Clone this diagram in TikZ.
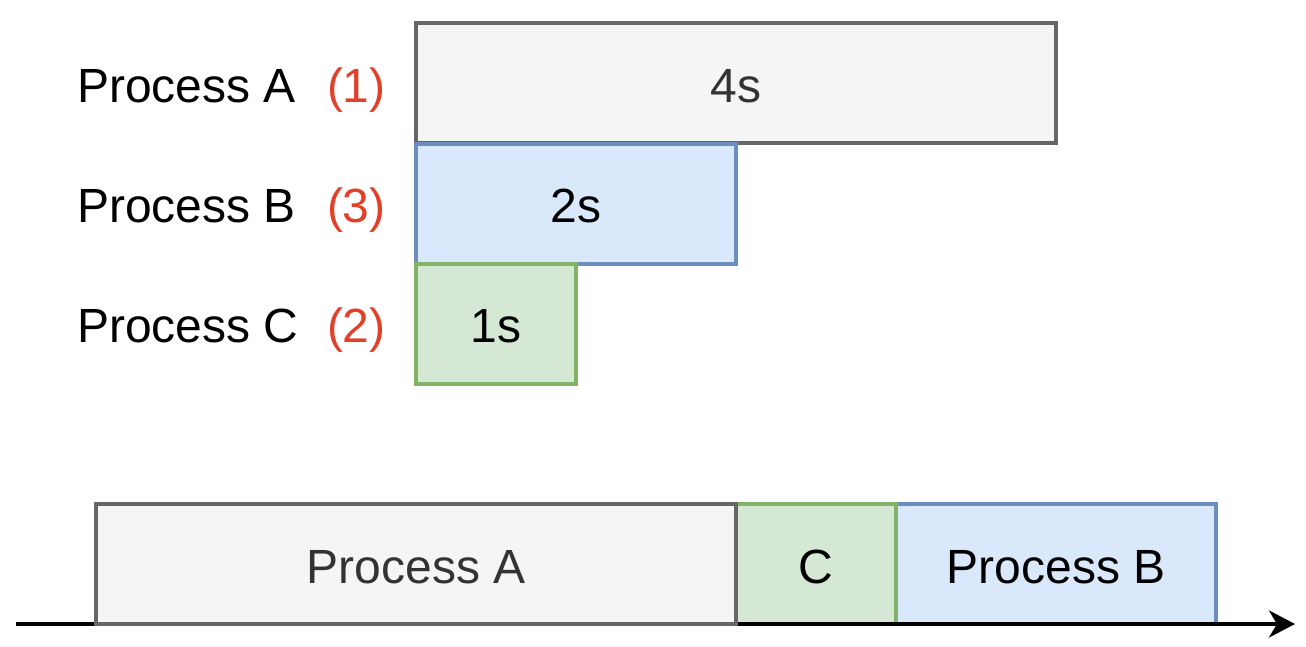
\documentclass[tikz,border=0pt]{standalone}
\usepackage{fontspec}
\setmainfont{Liberation Sans}
\usetikzlibrary{arrows.meta}
\definecolor{grayfill}{HTML}{F5F5F5}
\definecolor{graydraw}{HTML}{666666}
\definecolor{graytext}{HTML}{333333}
\definecolor{bluefill}{HTML}{DAE8FC}
\definecolor{bluedraw}{HTML}{6C8EBF}
\definecolor{greenfill}{HTML}{D5E8D4}
\definecolor{greendraw}{HTML}{82B366}
\definecolor{prio}{HTML}{E3402A}
\begin{document}
\begin{tikzpicture}[x=1pt,y=-1pt,
  every node/.style={font=\fontsize{48}{58}\selectfont, inner sep=0pt, outer sep=0pt},
  procbox/.style={rectangle, line width=4pt, minimum height=120pt, text height=38pt, text depth=0pt},
  graybox/.style={procbox, fill=grayfill, draw=graydraw, text=graytext},
  bluebox/.style={procbox, fill=bluefill, draw=bluedraw, text=black},
  greenbox/.style={procbox, fill=greenfill, draw=greendraw, text=black},
  plabel/.style={anchor=base west, text=black},
  prlabel/.style={anchor=base west, text=prio},
  axis/.style={line width=4pt, -{Stealth[length=26pt 0,width=27pt 0,inset=8pt 0]}}
]
\useasboundingbox (0,0) rectangle (1306,646);

% top rows
\node[graybox, minimum width=640pt] (ta) at (736,83) {4s};
\node[bluebox, minimum width=320pt] (tb) at (576,203.5) {2s};
\node[greenbox, minimum width=160pt] (tc) at (496,323.5) {1s};

\node[plabel] (la) at (77,102) {Process A};
\node[plabel] (lb) at (77,222) {Process B};
\node[plabel] (lc) at (77,342) {Process C};
\node[prlabel] (pa) at (327,102) {(1)};
\node[prlabel] (pb) at (327,222) {(3)};
\node[prlabel] (pc) at (327,342) {(2)};

% timeline
\node[bluebox, minimum width=320pt] (bb) at (1056,564) {Process B};
\node[greenbox, minimum width=160pt] (bc) at (816,564) {C};
\coordinate (s) at (16,624);
\coordinate (e) at (1295,624);
\draw[axis] (s) -- (e);
\node[graybox, minimum width=640pt] (ba) at (416,564) {Process A};
\end{tikzpicture}
\end{document}
